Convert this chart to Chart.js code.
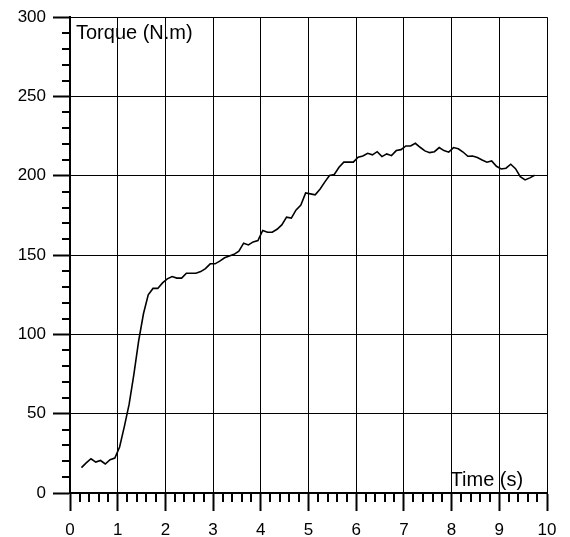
<!DOCTYPE html>
<html lang="en">
<head>
    <meta charset="UTF-8">
    <title>Torque vs Time</title>
    <script src="https://cdn.jsdelivr.net/npm/chart.js"></script>
    <style>
        body {
            margin: 0;
            padding: 0;
            background: #fff;
        }
        .wrap {
            width: 570px;
            height: 537px;
            position: relative;
        }
    </style>
</head>
<body>
    <div class="wrap">
        <canvas id="torqueChart"></canvas>
    </div>

    <script>
        // sample times (s)
        const times = [
            0.24, 0.34, 0.44, 0.54, 0.64, 0.74, 0.84, 0.94, 1.04, 1.14,
            1.24, 1.34, 1.44, 1.54, 1.64, 1.74, 1.84, 1.94, 2.04, 2.14,
            2.24, 2.34, 2.44, 2.54, 2.64, 2.74, 2.84, 2.94, 3.04, 3.14,
            3.24, 3.34, 3.44, 3.54, 3.64, 3.74, 3.84, 3.94, 4.04, 4.14,
            4.24, 4.34, 4.44, 4.54, 4.64, 4.74, 4.84, 4.94, 5.04, 5.14,
            5.24, 5.34, 5.44, 5.54, 5.64, 5.74, 5.84, 5.94, 6.04, 6.14,
            6.24, 6.34, 6.44, 6.54, 6.64, 6.74, 6.84, 6.94, 7.04, 7.14,
            7.24, 7.34, 7.44, 7.54, 7.64, 7.74, 7.84, 7.94, 8.04, 8.14,
            8.24, 8.34, 8.44, 8.54, 8.64, 8.74, 8.84, 8.94, 9.04, 9.14,
            9.24, 9.34, 9.44, 9.54, 9.64, 9.74
        ];

        // torque (N.m)
        const torque = [
            16, 19, 21.6, 19.5, 20.5, 18.3, 21, 22, 29, 42,
            56, 75, 96, 113, 125, 129, 129, 132.5, 135, 136.5,
            135.5, 135.5, 138.6, 138.6, 138.6, 139.6, 141.5, 144.5, 144.5, 146.2,
            148.3, 149.5, 150.5, 152.5, 157.5, 156.4, 158.3, 159.2, 165.5, 164.4,
            164.4, 166.3, 169, 173.9, 173.3, 178.5, 181.5, 189.2, 188.6, 188,
            191.5, 196, 200.2, 200.8, 205.4, 208.6, 208.6, 208.6, 211.7, 212.5,
            214.2, 213.2, 215.2, 212.1, 213.8, 212.7, 215.9, 216.5, 218.8, 218.8,
            220.5, 218, 215.7, 214.6, 215.2, 217.8, 215.9, 214.9, 217.8, 217,
            215, 212.3, 212.5, 211.5, 210, 208.6, 209.4, 206, 204.3, 204.8,
            207.3, 204.5, 199.5, 197.4, 198.7, 200.3
        ];

        const X_MIN = 0, X_MAX = 10, X_STEP = 1, X_MINOR = 0.2;
        const Y_MIN = 0, Y_MAX = 300, Y_STEP = 50, Y_MINOR = 10;
        const X_TITLE = 'Time (s)';
        const Y_TITLE = 'Torque (N.m)';

        const FONT = '"Liberation Sans", Arial, sans-serif';

        // minor tick marks + the two axis captions inside the plot
        const extras = {
            id: 'extras',
            afterDraw(chart) {
                const { ctx, chartArea, scales: { x, y } } = chart;
                ctx.save();
                ctx.strokeStyle = '#000';
                ctx.lineWidth = 2;
                ctx.beginPath();
                const nx = Math.round((X_MAX - X_MIN) / X_MINOR);
                for (let i = 0; i <= nx; i++) {
                    if (i % 5 === 0) continue;
                    const px = Math.round(x.getPixelForValue(X_MIN + i * X_MINOR));
                    ctx.moveTo(px, chartArea.bottom);
                    ctx.lineTo(px, chartArea.bottom + 9);
                }
                const ny = Math.round((Y_MAX - Y_MIN) / Y_MINOR);
                for (let i = 0; i <= ny; i++) {
                    if (i % 5 === 0) continue;
                    const py = Math.round(y.getPixelForValue(Y_MIN + i * Y_MINOR));
                    ctx.moveTo(chartArea.left, py);
                    ctx.lineTo(chartArea.left - 8, py);
                }
                ctx.stroke();

                ctx.fillStyle = '#000';
                ctx.font = '20px ' + FONT;
                ctx.textBaseline = 'alphabetic';
                ctx.textAlign = 'left';
                ctx.fillText(Y_TITLE, chartArea.left + 6, chartArea.top + 22);
                ctx.fillText(X_TITLE, x.getPixelForValue(8.0) - 1, chartArea.bottom - 7);
                ctx.restore();
            }
        };

        const ctx = document.getElementById('torqueChart').getContext('2d');
        const chart = new Chart(ctx, {
            type: 'line',
            data: {
                datasets: [{
                    data: times.map((t, i) => ({ x: t, y: torque[i] })),
                    borderColor: '#000',
                    borderWidth: 1.6,
                    pointRadius: 0,
                    tension: 0,
                    fill: false
                }]
            },
            options: {
                responsive: true,
                maintainAspectRatio: false,
                animation: false,
                layout: { padding: { top: 17, right: 23, left: 0, bottom: 0 } },
                plugins: {
                    legend: { display: false },
                    tooltip: { enabled: false }
                },
                scales: {
                    x: {
                        type: 'linear',
                        min: X_MIN,
                        max: X_MAX,
                        afterFit: s => { s.height = 44; },
                        border: { display: true, color: '#000', width: 2 },
                        grid: {
                            color: '#000',
                            lineWidth: 1,
                            drawTicks: true,
                            tickLength: 18,
                            tickWidth: 2,
                            tickColor: '#000'
                        },
                        ticks: {
                            stepSize: X_STEP,
                            autoSkip: false,
                            maxRotation: 0,
                            padding: 9,
                            color: '#000',
                            font: { family: FONT, size: 17 }
                        }
                    },
                    y: {
                        min: Y_MIN,
                        max: Y_MAX,
                        afterFit: s => { s.width = 70; },
                        border: { display: true, color: '#000', width: 2 },
                        grid: {
                            color: '#000',
                            lineWidth: 1,
                            drawTicks: true,
                            tickLength: 17,
                            tickWidth: 2,
                            tickColor: '#000'
                        },
                        ticks: {
                            stepSize: Y_STEP,
                            autoSkip: false,
                            padding: 7,
                            color: '#000',
                            font: { family: FONT, size: 17 }
                        }
                    }
                }
            },
            plugins: [extras]
        });
    </script>
</body>
</html>
